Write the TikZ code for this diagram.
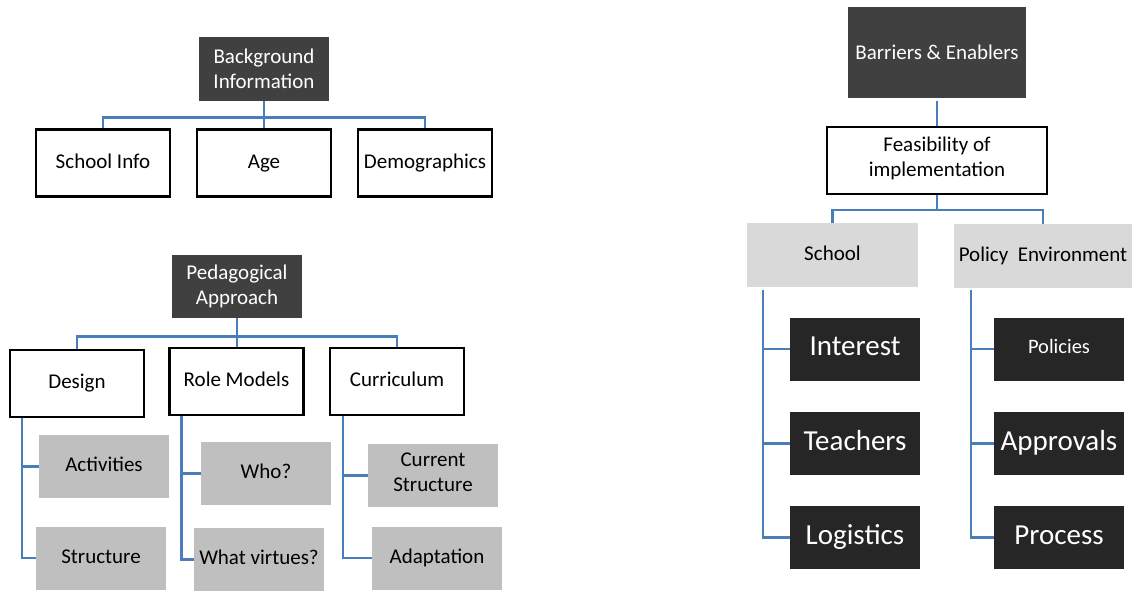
\documentclass[tikz,border=0pt]{standalone}
\usepackage{fontspec}
\setmainfont{Carlito}
\usepackage{tikz}
\usetikzlibrary{positioning}
\definecolor{titleGray}{HTML}{404040}
\definecolor{leafBlack}{HTML}{262626}
\definecolor{leafGray}{HTML}{BFBFBF}
\definecolor{branchGray}{HTML}{D9D9D9}
\definecolor{linkBlue}{HTML}{4A7EBB}
\tikzset{
    box_title/.style={
        rectangle, fill=titleGray, text=white, inner sep=2pt,
        minimum width=130pt, minimum height=64pt,
        align=center, font=\fontsize{21}{25}\selectfont
    },
    box_white/.style={
        rectangle, draw=black, line width=2.2pt, fill=white, inner sep=2pt,
        minimum width=134pt, minimum height=67pt,
        align=center, font=\fontsize{21}{25}\selectfont,
        execute at begin node=\strut
    },
    box_gray/.style={
        rectangle, fill=leafGray, inner sep=2pt,
        minimum width=130pt, minimum height=63pt,
        align=center, font=\fontsize{21}{25}\selectfont,
        execute at begin node=\strut
    },
    box_light/.style={
        rectangle, fill=branchGray, inner sep=2pt,
        minimum height=64pt,
        align=center, font=\fontsize{21}{25}\selectfont,
        execute at begin node=\strut
    },
    box_black/.style={
        rectangle, fill=leafBlack, text=white, inner sep=2pt,
        minimum width=130pt, minimum height=63pt,
        align=center, font=\fontsize{29}{34}\selectfont,
        execute at begin node=\strut
    },
    tree_link/.style={
        draw=linkBlue, line width=2.6pt
    }
}

\begin{document}
\begin{tikzpicture}[x=1pt, y=-1pt]
    \useasboundingbox (0,0) rectangle (1134,592);

    % background information
    \node[box_title] (bginfo) at (264, 69) {Background\\Information};
    \node[box_white] (sinfo) at (103, 163) {School Info};
    \node[box_white] (age) at (264, 163) {Age};
    \node[box_white] (demo) at (425, 163) {Demographics};

    \draw[tree_link] (bginfo.south) -- ++(0,16) -| (sinfo.north);
    \draw[tree_link] (bginfo.south) -- ++(0,16) -| (demo.north);
    \draw[tree_link] (bginfo.south) -- (age.north);

    % pedagogical approach
    \node[box_title, minimum height=63pt] (ped) at (237, 286.5) {Pedagogical\\Approach};
    \node[box_white] (design) at (77, 383.5) {Design};
    \node[box_white] (role) at (236.5, 381.5) {Role Models};
    \node[box_white] (curric) at (397, 381.5) {Curriculum};

    \node[box_gray] (act) at (104, 466.5) {Activities};
    \node[box_gray] (struct) at (101, 558) {Structure};
    \node[box_gray] (who) at (266, 473.5) {Who?};
    \node[box_gray] (virt) at (259, 559.5) {What virtues?};
    \node[box_gray] (cur) at (433, 475.5) {Current\\Structure};
    \node[box_gray] (adapt) at (437, 558) {Adaptation};

    \draw[tree_link] (ped.south) -- ++(0,18) -| (design.north);
    \draw[tree_link] (ped.south) -- ++(0,18) -| (curric.north);
    \draw[tree_link] (ped.south) -- (ped.south |- role.north);

    \draw[tree_link] (design.south west) ++(13,0) |- (act.west);
    \draw[tree_link] (design.south west) ++(13,0) |- (struct.west);
    \draw[tree_link] (role.south west) ++(13,0) |- (who.west);
    \draw[tree_link] (role.south west) ++(13,0) |- (virt.west);
    \draw[tree_link] (curric.south west) ++(14,0) |- (cur.west);
    \draw[tree_link] (curric.south west) ++(14,0) |- (adapt.west);

    % barriers and enablers
    \node[box_title, minimum width=178pt, minimum height=91pt] (barr) at (937, 52.5) {Barriers \& Enablers};
    \node[box_white, minimum width=220pt] (feas) at (937, 160.5) {Feasibility of\\implementation};
    \node[box_light, minimum width=171pt] (school) at (832.5, 255) {School};
    \node[box_light, minimum width=178pt] (policy) at (1043, 256) {Policy\ \ Environment};

    \node[box_black] (interest) at (855, 349) {Interest};
    \node[box_black] (teach) at (855, 443.5) {Teachers};
    \node[box_black] (logis) at (855, 537.5) {Logistics};
    \node[box_black, font=\fontsize{20.5}{24}\selectfont] (polic) at (1059, 349) {Policies};
    \node[box_black] (appr) at (1059, 443.5) {Approvals};
    \node[box_black] (proc) at (1059, 537.5) {Process};

    \draw[tree_link, shorten <=3pt] (barr) -- (feas);
    \draw[tree_link] (feas.south) -- ++(0,15) -| (school.north);
    \draw[tree_link] (feas.south) -- ++(0,15) -| (policy.north);

    \draw[tree_link] (school.south west) ++(16,3) |- (interest.west);
    \draw[tree_link] (school.south west) ++(16,3) |- (teach.west);
    \draw[tree_link] (school.south west) ++(16,3) |- (logis.west);
    \draw[tree_link] (policy.south west) ++(17,2) |- (polic.west);
    \draw[tree_link] (policy.south west) ++(17,2) |- (appr.west);
    \draw[tree_link] (policy.south west) ++(17,2) |- (proc.west);
\end{tikzpicture}
\end{document}
